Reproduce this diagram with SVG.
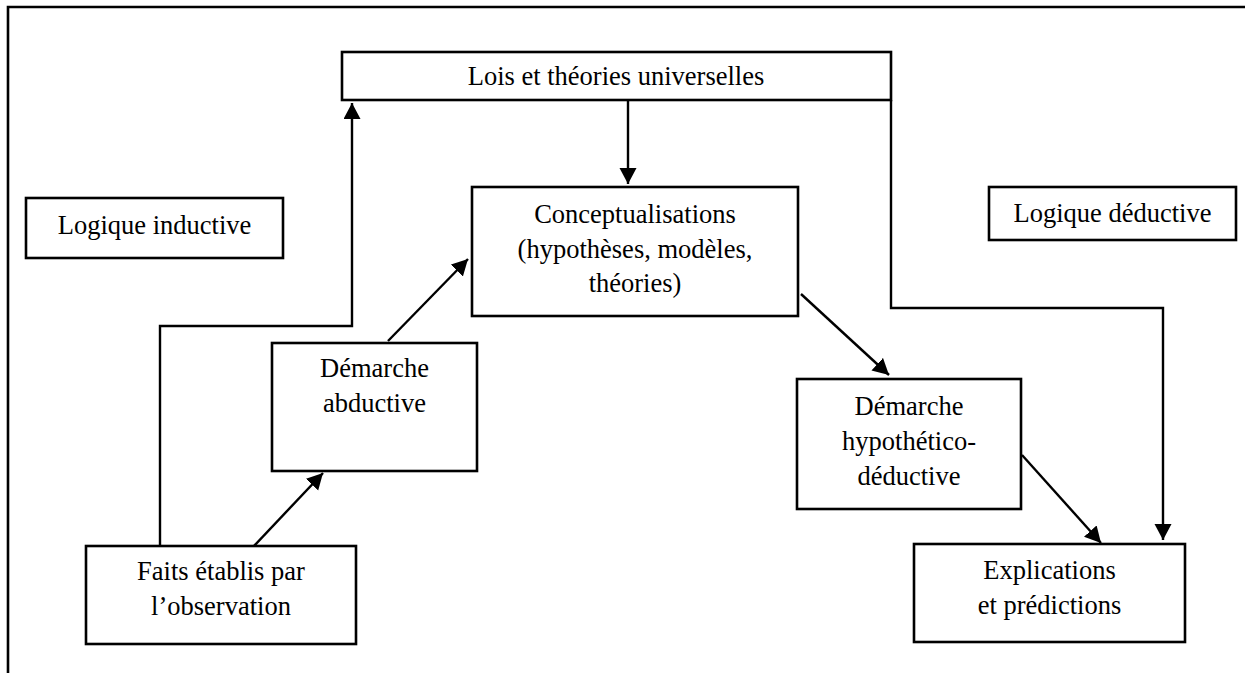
<svg xmlns="http://www.w3.org/2000/svg" width="1245" height="673" viewBox="0 0 1245 673">
  <style>
    .box { fill: #ffffff; stroke: #000000; stroke-width: 2.6; }
    .frame { fill: none; stroke: #000000; stroke-width: 2.6; }
    .lbl { font-family: "Liberation Serif", "Times New Roman", serif; font-size: 26.5px; fill: #000000; text-anchor: middle; }
    .conn { fill: none; stroke: #000000; stroke-width: 2.4; }
  </style>
  <defs>
    <marker id="arrow" markerUnits="userSpaceOnUse" markerWidth="18" markerHeight="18" refX="16" refY="8.5" orient="auto">
      <path d="M0,0 L16,8.5 L0,17 Z" fill="#000000"/>
    </marker>
  </defs>

  <rect x="0" y="0" width="1245" height="673" fill="#ffffff"/>

  <!-- page frame: top and left rules -->
  <path class="frame" d="M8,673 L8,7 L1245,7"/>

  <!-- connectors -->
  <g id="connectors">
    <path class="conn" d="M160,546 L160,326 L352,326 L352,103" marker-end="url(#arrow)"/>
    <line class="conn" x1="253" y1="547" x2="323" y2="473" marker-end="url(#arrow)"/>
    <line class="conn" x1="388" y1="341" x2="468" y2="259" marker-end="url(#arrow)"/>
    <line class="conn" x1="628" y1="100" x2="628" y2="184" marker-end="url(#arrow)"/>
    <line class="conn" x1="801" y1="294" x2="889" y2="375" marker-end="url(#arrow)"/>
    <line class="conn" x1="1022" y1="455" x2="1101" y2="543" marker-end="url(#arrow)"/>
    <path class="conn" d="M891,100 L891,308 L1163,308 L1163,540" marker-end="url(#arrow)"/>
  </g>

  <g id="lois">
    <rect class="box" x="342" y="52" width="549" height="48"/>
    <text class="lbl" x="616" y="85">Lois et théories universelles</text>
  </g>

  <g id="logique-inductive">
    <rect class="box" x="26" y="198" width="257" height="60"/>
    <text class="lbl" x="154.5" y="234">Logique inductive</text>
  </g>

  <g id="logique-deductive">
    <rect class="box" x="989" y="187" width="247" height="53"/>
    <text class="lbl" x="1112.5" y="222">Logique déductive</text>
  </g>

  <g id="conceptualisations">
    <rect class="box" x="472" y="187" width="326" height="129"/>
    <text class="lbl" x="635" y="223">Conceptualisations</text>
    <text class="lbl" x="635" y="257.5">(hypothèses, modèles,</text>
    <text class="lbl" x="635" y="292">théories)</text>
  </g>

  <g id="demarche-abductive">
    <rect class="box" x="272" y="343" width="205" height="128"/>
    <text class="lbl" x="374.5" y="377">Démarche</text>
    <text class="lbl" x="374.5" y="412">abductive</text>
  </g>

  <g id="demarche-hypothetico-deductive">
    <rect class="box" x="797" y="379" width="224" height="130"/>
    <text class="lbl" x="909" y="415">Démarche</text>
    <text class="lbl" x="909" y="450">hypothético-</text>
    <text class="lbl" x="909" y="485">déductive</text>
  </g>

  <g id="faits">
    <rect class="box" x="86" y="546" width="270" height="98"/>
    <text class="lbl" x="221" y="580">Faits établis par</text>
    <text class="lbl" x="221" y="615">l’observation</text>
  </g>

  <g id="explications">
    <rect class="box" x="914" y="544" width="271" height="98"/>
    <text class="lbl" x="1049.5" y="579">Explications</text>
    <text class="lbl" x="1049.5" y="614">et prédictions</text>
  </g>
</svg>
